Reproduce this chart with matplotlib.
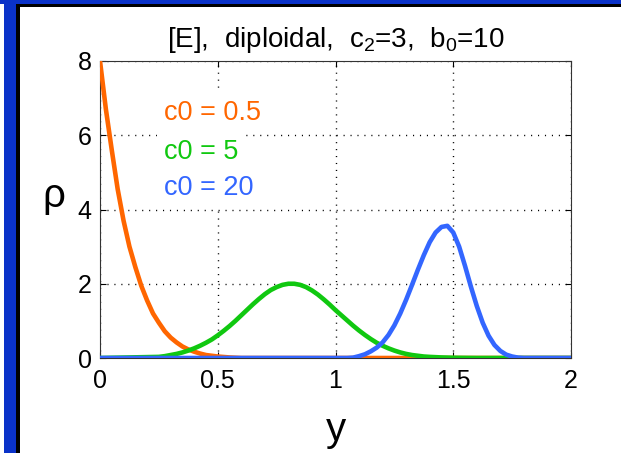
import matplotlib
matplotlib.use("Agg")
import matplotlib.pyplot as plt
from matplotlib.patches import Rectangle

plt.rcParams.update({
    "font.family": ["Liberation Sans", "DejaVu Sans"],
    "mathtext.default": "regular",
    "axes.linewidth": 0.8,
})

ORANGE = "#ff6600"
GREEN = "#10c810"
BLUE = "#3366ff"
FRAME = "#0a32c8"

# c0 = 0.5
y_orange = [0.0, 0.025, 0.05, 0.075, 0.1, 0.125, 0.15, 0.175, 0.2, 0.225, 0.25, 0.275,
            0.3, 0.325, 0.35, 0.375, 0.4, 0.425, 0.45, 0.5, 0.55, 0.6, 2.0]
rho_orange = [8.0, 6.7, 5.6, 4.55, 3.7, 3.0, 2.45, 1.95, 1.55, 1.2, 0.95, 0.72,
              0.55, 0.42, 0.31, 0.23, 0.17, 0.12, 0.08, 0.04, 0.015, 0.0, 0.0]

# c0 = 5
y_green = [0.0, 0.25, 0.275, 0.3, 0.325, 0.35, 0.375, 0.4, 0.425, 0.45, 0.475, 0.5,
           0.525, 0.55, 0.575, 0.6, 0.625, 0.65, 0.675, 0.7, 0.725, 0.75, 0.775, 0.8,
           0.825, 0.85, 0.875, 0.9, 0.925, 0.95, 0.975, 1.0, 1.025, 1.05, 1.075, 1.1,
           1.125, 1.15, 1.175, 1.2, 1.225, 1.25, 1.275, 1.3, 1.325, 1.35, 1.375, 1.4,
           1.45, 1.5, 1.55, 1.6, 2.0]
rho_green = [0.0, 0.03, 0.05, 0.08, 0.11, 0.15, 0.2, 0.26, 0.33, 0.41, 0.5, 0.61,
             0.73, 0.86, 1.0, 1.15, 1.3, 1.45, 1.59, 1.72, 1.83, 1.91, 1.97, 2.0,
             2.0, 1.97, 1.91, 1.82, 1.71, 1.58, 1.44, 1.29, 1.15, 1.01, 0.87, 0.74,
             0.62, 0.51, 0.41, 0.33, 0.26, 0.2, 0.15, 0.11, 0.08, 0.06, 0.04, 0.03,
             0.015, 0.007, 0.003, 0.0, 0.0]

# c0 = 20
y_blue = [0.0, 1.05, 1.075, 1.1, 1.125, 1.15, 1.175, 1.2, 1.225, 1.25, 1.275, 1.3,
          1.325, 1.35, 1.375, 1.4, 1.425, 1.45, 1.475, 1.5, 1.525, 1.55, 1.575, 1.6,
          1.625, 1.65, 1.675, 1.7, 1.725, 1.75, 1.775, 1.8, 2.0]
rho_blue = [0.0, 0.0, 0.01, 0.05, 0.1, 0.18, 0.28, 0.42, 0.62, 0.88, 1.2, 1.57,
            1.97, 2.38, 2.77, 3.12, 3.38, 3.53, 3.56, 3.38, 3.0, 2.48, 1.92, 1.4,
            0.95, 0.6, 0.35, 0.19, 0.09, 0.04, 0.01, 0.0, 0.0]

labels = ["c0 = 0.5", "c0 = 5", "c0 = 20"]
label_y = [6.6, 5.55, 4.58]

xticks = [0, 0.5, 1, 1.5, 2]
xticklabels = ["0", "0.5", "1", "1.5", "2"]
yticks = [0, 2, 4, 6, 8]

fig = plt.figure(figsize=(6.21, 4.53), dpi=100)
fig.patch.set_facecolor("white")

# slide frame: blue bars with dark shadow on the left and top
fig.patches.append(Rectangle((16 / 621, 0), 4 / 621, 1 - 4 / 453, transform=fig.transFigure,
                             facecolor="black", edgecolor="none", zorder=0))
fig.patches.append(Rectangle((4 / 621, 1 - 7 / 453), 1, 3 / 453, transform=fig.transFigure,
                             facecolor="black", edgecolor="none", zorder=0))
fig.patches.append(Rectangle((4 / 621, 0), 12 / 621, 1, transform=fig.transFigure,
                             facecolor=FRAME, edgecolor="none", zorder=1))
fig.patches.append(Rectangle((0, 1 - 4 / 453), 1, 4 / 453, transform=fig.transFigure,
                             facecolor=FRAME, edgecolor="none", zorder=1))

ax = fig.add_axes([100 / 621, 95 / 453, 471 / 621, 297 / 453])
lw = 3.3
ax.plot(y_orange, rho_orange, color=ORANGE, lw=lw, solid_capstyle="butt", zorder=3)
ax.plot(y_green, rho_green, color=GREEN, lw=lw, solid_capstyle="butt", zorder=3)
ax.plot(y_blue, rho_blue, color=BLUE, lw=lw, solid_capstyle="butt", zorder=3)

for txt, yy, c in zip(labels, label_y, [ORANGE, GREEN, BLUE]):
    ax.text(0.27, yy, txt, color=c, fontsize=19.5, ha="left", va="center", zorder=2,
            bbox=dict(boxstyle="square,pad=0.25", facecolor="white", edgecolor="none"))

ax.set_xlim(0, 2)
ax.set_ylim(0, 8)
ax.set_xticks(xticks)
ax.set_xticklabels(xticklabels)
ax.set_yticks(yticks)
ax.grid(True, color="black", linestyle=(0, (0.8, 4.2)), linewidth=1.0, zorder=1)
ax.set_axisbelow(True)
ax.tick_params(direction="in", length=4, width=0.8, labelsize=18, pad=6,
               top=True, right=True)
ax.tick_params(axis="x", pad=8)
for s in ax.spines.values():
    s.set_color("#333333")

ax.set_title("[E],  diploidal,  c$_{2}$=3,  b$_{0}$=10", fontsize=20, pad=10)
ax.set_xlabel("y", fontsize=29, labelpad=13)
ax.set_ylabel("ρ", fontsize=29, rotation=0, ha="center", va="center")
ax.yaxis.set_label_coords(-0.098, 0.545)

fig.savefig("out.png", dpi=100)
